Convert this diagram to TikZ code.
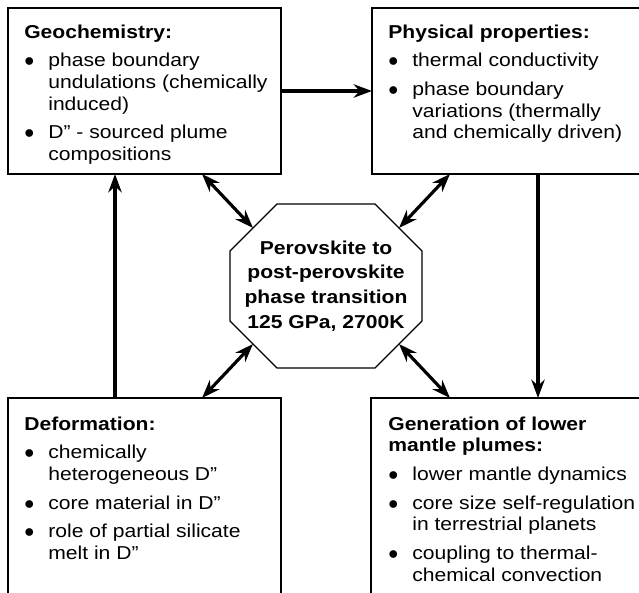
\documentclass[tikz,border=0pt]{standalone}
\usepackage{fontspec}
\setmainfont{Liberation Sans}[FakeStretch=1.13]
\usetikzlibrary{calc, arrows.meta}
\tikzset{
  box/.style={draw, line width=0.8pt, inner sep=0pt, outer sep=0pt},
  txt/.style={anchor=north west, inner sep=0pt, font=\fontsize{11.2}{13}\selectfont},
  one/.style={line width=1.9pt, -{Stealth[length=11pt, width=8pt]}},
  two/.style={line width=1.9pt, {Stealth[length=11pt, width=8pt]}-{Stealth[length=11pt, width=8pt]}},
}
\newcommand{\boxhead}[1]{\multicolumn{2}{@{}l@{}}{\bfseries #1}}
\newcommand{\bul}{{\fontsize{12.5}{13}\selectfont$\bullet$}}

\begin{document}
\begin{tikzpicture}[x=0.6pt, y=-0.6pt]
\useasboundingbox (0,0) rectangle (639,593);
\clip (0,0) rectangle (639,593);
% four boxes (the right and lower ones run off the page)
\node[box, minimum width=163.8pt, minimum height=99.6pt] (geo) at (144.5,91) {};
\node[box, minimum width=180pt, minimum height=99.6pt] (phys) at (522,91) {};
\node[box, minimum width=163.8pt, minimum height=145.2pt] (deform) at (144.5,519) {};
\node[box, minimum width=180.6pt, minimum height=145.2pt] (plume) at (521.5,519) {};
% box texts
\node[txt] (geotxt) at ($(geo.north west)+(16,14.6)$) {\begin{tabular}{@{}p{14.4pt}@{}l@{}}
\boxhead{Geochemistry:}\\[4.2pt]
\bul & phase boundary\\
 & undulations (chemically\\
 & induced)\\[4.2pt]
\bul & D'' - sourced plume\\
 & compositions
\end{tabular}};
\node[txt] (phystxt) at ($(phys.north west)+(16,14.6)$) {\begin{tabular}{@{}p{14.4pt}@{}l@{}}
\boxhead{Physical properties:}\\[4.2pt]
\bul & thermal conductivity\\[4.2pt]
\bul & phase boundary\\
 & variations (thermally\\
 & and chemically driven)
\end{tabular}};
\node[txt] (deformtxt) at ($(deform.north west)+(16,16.6)$) {\begin{tabular}{@{}p{14.4pt}@{}l@{}}
\boxhead{Deformation:}\\[4.2pt]
\bul & chemically\\
 & heterogeneous D''\\[4.2pt]
\bul & core material in D''\\[4.2pt]
\bul & role of partial silicate\\
 & melt in D''
\end{tabular}};
\node[txt] (plumetxt) at ($(plume.north west)+(17,16.6)$) {\begin{tabular}{@{}p{14.4pt}@{}l@{}}
\boxhead{Generation of lower}\\
\boxhead{mantle plumes:}\\[4.2pt]
\bul & lower mantle dynamics\\[4.2pt]
\bul & core size self-regulation\\
 & in terrestrial planets\\[4.2pt]
\bul & coupling to thermal-\\
 & chemical convection
\end{tabular}};
% central octagon
\node[inner sep=0pt, align=center, font=\fontsize{11.2}{14.8}\selectfont\bfseries] (ppv) at (326,286)
  {Perovskite to\\post-perovskite\\phase transition\\125 GPa, 2700K};
\draw[line width=0.8pt, shift={(ppv.center)}] (-49,-82) -- (49,-82) -- (96,-35) -- (96,35)
  -- (49,82) -- (-49,82) -- (-96,35) -- (-96,-35) -- cycle;
\coordinate (ppvnw) at ($(ppv)+(-73,-58)$);
\coordinate (ppvne) at ($(ppv)+(73,-58)$);
\coordinate (ppvsw) at ($(ppv)+(-73,58)$);
\coordinate (ppvse) at ($(ppv)+(73,58)$);
% connectors
\draw[two] ($(geo.south west)+(194,0)$) -- (ppvnw);
\draw[two] ($(phys.south west)+(78,0)$) -- (ppvne);
\draw[two] ($(deform.north west)+(194,0)$) -- (ppvsw);
\draw[two] ($(plume.north west)+(79,0)$) -- (ppvse);
\draw[one] ($(deform.north west)+(107,0)$) -- ($(geo.south west)+(107,0)$);
\draw[one] (geo.east) -- (geo.east -| phys.west);
\draw[one] ($(phys.south west)+(166,0)$) -- ($(plume.north west)+(167,0)$);
\end{tikzpicture}
\end{document}
